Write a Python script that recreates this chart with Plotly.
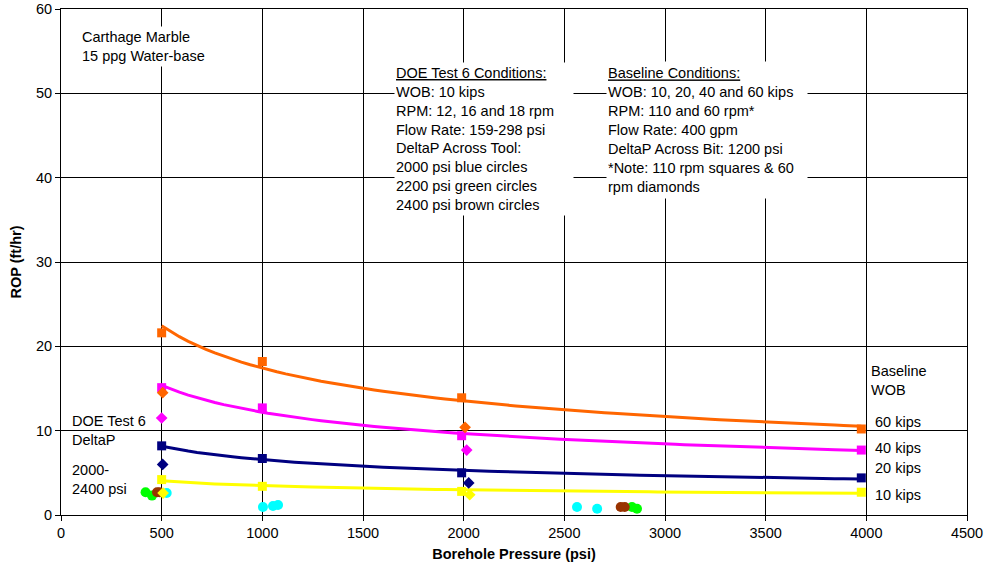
import numpy as np
import plotly.graph_objects as go

# ---- data ----
square_x = [500, 1000, 1990, 3975]
sq_60kips = [21.6, 18.2, 13.9, 10.2]
sq_40kips = [15.1, 12.7, 9.4, 7.7]
sq_20kips = [8.2, 6.7, 5.0, 4.4]
sq_10kips = [4.2, 3.4, 2.8, 2.7]

dia_60_x = [505, 2007]
dia_60_y = [14.5, 10.4]
dia_40_x = [500, 2015]
dia_40_y = [11.5, 7.7]
dia_20_x = [505, 2025]
dia_20_y = [6.0, 3.8]
dia_10_x = [507, 2030]
dia_10_y = [2.6, 2.4]

cyan_x = [525, 1003, 1053, 1078, 2563, 2663]
cyan_y = [2.6, 0.95, 1.07, 1.19, 0.95, 0.75]
green_x = [420, 452, 2836, 2861]
green_y = [2.7, 2.3, 0.95, 0.75]
brown_x = [477, 490, 2780, 2800]
brown_y = [2.7, 2.7, 0.95, 0.95]

x_ticks = [0, 500, 1000, 1500, 2000, 2500, 3000, 3500, 4000, 4500]
y_ticks = [0, 10, 20, 30, 40, 50, 60]

FONT = "Arial, 'Liberation Sans', sans-serif"
FS = 14.5

colors = {"60": "#FF6600", "40": "#FF00FF", "20": "#000080", "10": "#FFFF00"}

fig = go.Figure()


def power_fit(xs, ys):
    lx, ly = np.log(xs), np.log(ys)
    b, a = np.polyfit(lx, ly, 1)
    xx = np.linspace(min(xs), max(xs), 80)
    return xx, np.exp(a) * xx ** b


# trendlines (power fit of the square points)
for key, ys in [("60", sq_60kips), ("40", sq_40kips), ("20", sq_20kips), ("10", sq_10kips)]:
    xx, yy = power_fit(square_x, ys)
    fig.add_trace(go.Scatter(x=xx, y=yy, mode="lines",
                             line=dict(color=colors[key], width=3),
                             showlegend=False, hoverinfo="skip"))

# circles
for xs, ys, c in [(green_x, green_y, "#00FF00"), (brown_x, brown_y, "#993300"),
                  (cyan_x, cyan_y, "#00FFFF")]:
    fig.add_trace(go.Scatter(x=xs, y=ys, mode="markers",
                             marker=dict(symbol="circle", size=10, color=c),
                             showlegend=False))

# squares
for key, ys in [("60", sq_60kips), ("40", sq_40kips), ("20", sq_20kips), ("10", sq_10kips)]:
    fig.add_trace(go.Scatter(x=square_x, y=ys, mode="markers",
                             marker=dict(symbol="square", size=9, color=colors[key]),
                             showlegend=False))

# diamonds
for key, xs, ys in [("60", dia_60_x, dia_60_y), ("40", dia_40_x, dia_40_y),
                    ("20", dia_20_x, dia_20_y), ("10", dia_10_x, dia_10_y)]:
    fig.add_trace(go.Scatter(x=xs, y=ys, mode="markers",
                             marker=dict(symbol="diamond", size=9, color=colors[key]),
                             showlegend=False))

ann_font = dict(family=FONT, size=FS, color="black")
annotations = [
    dict(x=89, y=55.6, text="Carthage Marble<br>15 ppg Water-base", xanchor="left",
         yanchor="middle", align="left", bgcolor="white", borderpad=2),
    dict(x=1655, y=44.6,
         text="<u>DOE Test 6 Conditions:</u><br>WOB: 10 kips<br>RPM: 12, 16 and 18 rpm<br>"
              "Flow Rate: 159-298 psi<br>DeltaP Across Tool:<br>2000 psi blue circles<br>"
              "2200 psi green circles<br>2400 psi brown circles",
         xanchor="left", yanchor="middle", align="left", bgcolor="white",
         width=176, height=150, borderpad=1),
    dict(x=2705, y=45.6,
         text="<u>Baseline Conditions:</u><br>WOB: 10, 20, 40 and 60 kips<br>RPM: 110 and 60 rpm*<br>"
              "Flow Rate: 400 gpm<br>DeltaP Across Bit: 1200 psi<br>*Note: 110 rpm squares &amp; 60<br>"
              "rpm diamonds",
         xanchor="left", yanchor="middle", align="left", bgcolor="white",
         width=198, height=134, borderpad=1),
    dict(x=45, y=10.0, text="DOE Test 6<br>DeltaP", xanchor="left", yanchor="middle", align="left"),
    dict(x=45, y=4.2, text="2000-<br>2400 psi", xanchor="left", yanchor="middle", align="left"),
    dict(x=4012, y=16.0, text="Baseline<br>WOB", xanchor="left", yanchor="middle", align="left"),
    dict(x=4035, y=11.0, text="60 kips", xanchor="left", yanchor="middle"),
    dict(x=4035, y=7.9, text="40 kips", xanchor="left", yanchor="middle"),
    dict(x=4035, y=5.6, text="20 kips", xanchor="left", yanchor="middle"),
    dict(x=4035, y=2.4, text="10 kips", xanchor="left", yanchor="middle"),
]
for a in annotations:
    a.update(xref="x", yref="y", showarrow=False, font=ann_font)

axis_common = dict(showgrid=True, gridcolor="black", gridwidth=1, showline=True,
                   linecolor="black", linewidth=1, mirror=True, ticks="outside",
                   ticklen=5, tickcolor="black", zeroline=False, automargin=False,
                   tickfont=dict(family=FONT, size=FS, color="black"))

fig.update_layout(
    width=986, height=569,
    margin=dict(l=61, r=19, t=9, b=54),
    paper_bgcolor="white", plot_bgcolor="white",
    font=dict(family=FONT, size=FS, color="black"),
    xaxis=dict(range=[0, 4500], tickvals=x_ticks, ticktext=[str(v) for v in x_ticks],
               title=dict(text="<b>Borehole Pressure (psi)</b>", standoff=8,
                          font=dict(family=FONT, size=FS)),
               **axis_common),
    yaxis=dict(range=[0, 60], tickvals=y_ticks, ticktext=[str(v) for v in y_ticks],
               title=dict(text="<b>ROP (ft/hr)</b>", standoff=10,
                          font=dict(family=FONT, size=FS)),
               **axis_common),
    annotations=annotations,
    showlegend=False,
)

fig.write_html("out.html", config={"displayModeBar": False},
               post_script="document.body.style.margin='0';document.body.style.padding='0';")
